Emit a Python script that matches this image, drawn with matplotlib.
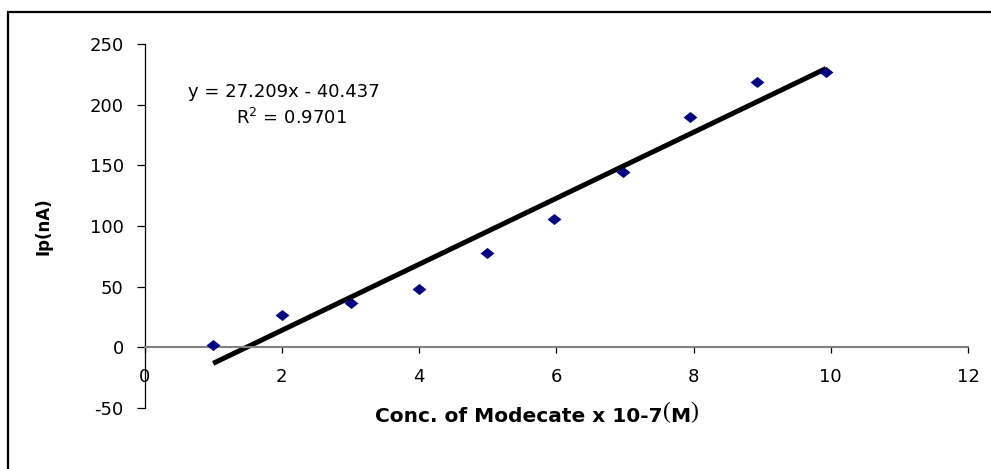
import matplotlib
matplotlib.use("Agg")
import matplotlib.pyplot as plt
from matplotlib.path import Path
from matplotlib.patches import Rectangle

plt.rcParams['font.family'] = ['DejaVu Sans']
plt.rcParams['axes.unicode_minus'] = False

# data
conc = [1.0, 2.0, 3.01, 4.0, 4.99, 5.97, 6.97, 7.95, 8.92, 9.93]
ip = [2.2, 27.0, 36.9, 48.4, 78.1, 105.6, 144.1, 189.5, 218.6, 227.2]
slope = 27.209
intercept = -40.437
r2 = 0.9701
xticks = [0, 2, 4, 6, 8, 10, 12]
yticks = [-50, 0, 50, 100, 150, 200, 250]

W, H = 991, 469
fig = plt.figure(figsize=(W / 100, H / 100), dpi=100)
ax = fig.add_axes([144.5 / W, 61 / H, (968 - 144.5) / W, (408 - 44) / H])

# outer chart frame (right and bottom edges cut off in the original)
fig.patches.append(Rectangle((8 / W, -0.1), 2, 1.1 - 12 / H, transform=fig.transFigure,
                             fill=False, edgecolor='black', linewidth=1.6))

diamond = Path([(-1, 0), (0, 0.8), (1, 0), (0, -0.8), (-1, 0)],
               [Path.MOVETO, Path.LINETO, Path.LINETO, Path.LINETO, Path.CLOSEPOLY])

ax.scatter(conc, ip, marker=diamond, s=10 ** 2, color='#000080', zorder=3, linewidths=0)
fx = [conc[0], conc[-1]]
fy = [slope * v + intercept for v in fx]
ax.plot(fx, fy, color='black', linewidth=3.6, solid_capstyle='butt', zorder=2)

ax.set_xlim(0, 12)
ax.set_ylim(-50, 250)
ax.set_xticks(xticks)
ax.set_yticks(yticks)

ax.spines['top'].set_visible(False)
ax.spines['right'].set_visible(False)
ax.spines['bottom'].set_position(('data', 0))
ax.spines['bottom'].set_color('#808080')
ax.spines['bottom'].set_linewidth(1.5)
ax.spines['left'].set_linewidth(0.9)

ax.tick_params(axis='y', direction='out', length=6, width=0.9, pad=9, labelsize=13)
ax.tick_params(axis='x', direction='out', length=4, width=0.9, pad=11, labelsize=13)

ax.text(0.634, 210.5, 'y = 27.209x - 40.437', fontsize=13, va='center', ha='left')
ax.text(1.333, 189, 'R$^2$ = %.4f' % r2, fontsize=13, va='center', ha='left')

ax.set_ylabel('Ip(nA)', fontsize=12, fontweight='bold')
ax.yaxis.set_label_coords((53 - 144.5) / (968 - 144.5), 0.5)

xl = fig.text(375 / W, 1 - 416 / H, 'Conc. of Modecate x 10-7', fontsize=14.5,
              fontweight='bold', ha='left', va='center')
p1 = ax.annotate('(', xy=(1, 0), xycoords=xl, xytext=(0, 2), textcoords='offset points',
                 ha='left', va='bottom', fontsize=17, family='Liberation Serif')
p2 = ax.annotate('M', xy=(1, 0), xycoords=xl, xytext=(p1.get_window_extent(fig.canvas.get_renderer()).width * 0.72, 0),
                 textcoords='offset points', ha='left', va='bottom', fontsize=14.5, fontweight='bold')
ax.annotate(')', xy=(1, 0), xycoords=p2, xytext=(0, 2), textcoords='offset points',
            ha='left', va='bottom', fontsize=17, family='Liberation Serif')

fig.savefig('out.png', dpi=100)
